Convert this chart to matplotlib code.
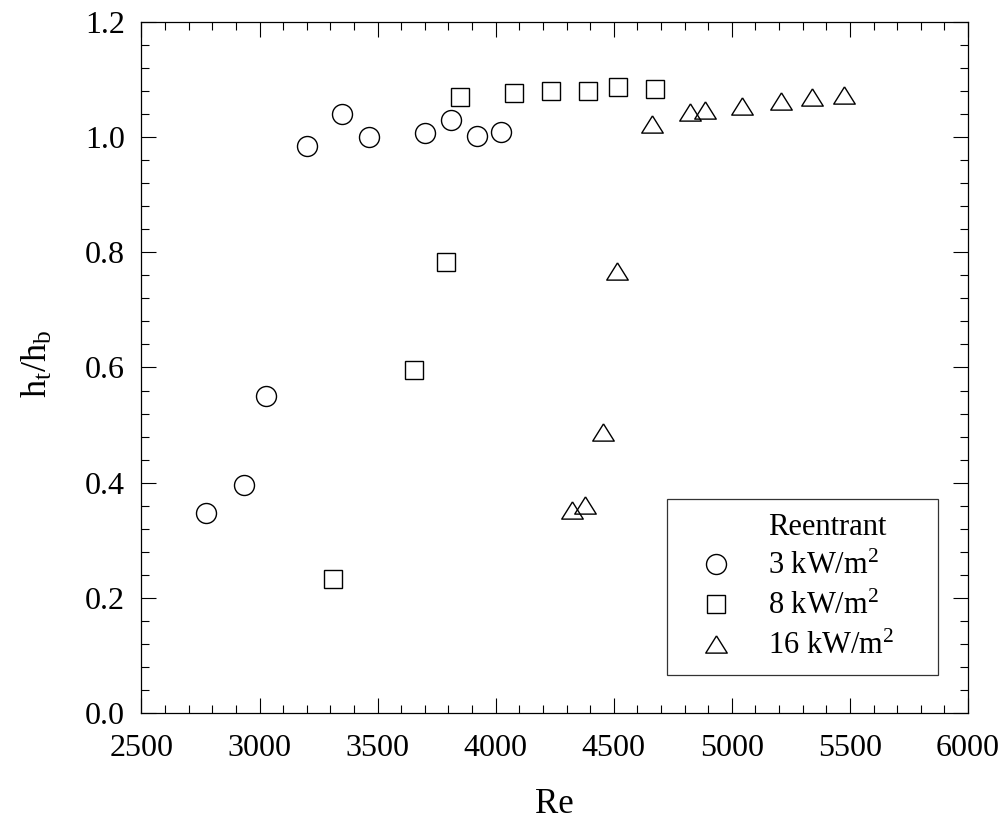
import matplotlib
matplotlib.use("Agg")
import matplotlib.pyplot as plt
from matplotlib.lines import Line2D
from matplotlib.ticker import MultipleLocator, FormatStrFormatter

plt.rcParams['font.family'] = ['Liberation Serif', 'DejaVu Serif']
plt.rcParams['mathtext.fontset'] = 'custom'
plt.rcParams['mathtext.rm'] = 'Liberation Serif'
plt.rcParams['mathtext.it'] = 'Liberation Serif:italic'

# Reentrant surface, ratio of top to bottom heat transfer coefficient vs Re
re_3 = [2773, 2934, 3026, 3200, 3348, 3462, 3700, 3811, 3920, 4021]
ht_3 = [0.347, 0.396, 0.551, 0.985, 1.040, 1.000, 1.007, 1.029, 1.002, 1.009]

re_8 = [3311, 3654, 3788, 3849, 4077, 4234, 4390, 4519, 4675]
ht_8 = [0.233, 0.596, 0.783, 1.070, 1.077, 1.080, 1.080, 1.087, 1.083]

re_16 = [4323, 4378, 4454, 4512, 4662, 4823, 4886, 5042, 5207, 5338, 5475]
ht_16 = [0.353, 0.361, 0.488, 0.768, 1.023, 1.043, 1.048, 1.055, 1.063, 1.070, 1.074]

labels = ['3 kW/m$^2$', '8 kW/m$^2$', '16 kW/m$^2$']
legend_title = 'Reentrant'

fig = plt.figure(figsize=(10.07, 8.25), dpi=100)
ax = fig.add_axes([0.1405, 0.1358, 0.8208, 0.8375])

tri = [(0, 0.8), (-1, -0.8), (1, -0.8), (0, 0.8)]
common = dict(linestyle='none', markerfacecolor='none', markeredgecolor='black',
              markeredgewidth=1.0)
h1, = ax.plot(re_3, ht_3, marker='o', markersize=14.4, label=labels[0], **common)
h2, = ax.plot(re_8, ht_8, marker='s', markersize=13, label=labels[1], **common)
h3, = ax.plot(re_16, ht_16, marker=tri, markersize=15.5, label=labels[2], **common)

ax.set_xlim(2500, 6000)
ax.set_ylim(0, 1.2)
ax.xaxis.set_major_locator(MultipleLocator(500))
ax.xaxis.set_minor_locator(MultipleLocator(100))
ax.yaxis.set_major_locator(MultipleLocator(0.2))
ax.yaxis.set_minor_locator(MultipleLocator(0.04))
ax.yaxis.set_major_formatter(FormatStrFormatter('%.1f'))

ax.tick_params(which='both', direction='in', top=True, right=True, width=0.8,
               labelsize=23, colors='black')
ax.tick_params(which='major', length=11)
ax.tick_params(which='minor', length=5.5)
ax.tick_params(axis='x', which='major', pad=15)
ax.tick_params(axis='y', which='major', pad=12)
for s in ax.spines.values():
    s.set_linewidth(0.9)

ax.set_xlabel('Re', fontsize=25)
ax.set_ylabel(r'h$_\mathrm{t}$/h$_\mathrm{b}$', fontsize=26)
ax.xaxis.set_label_coords(0.5, -0.108)
ax.yaxis.set_label_coords(-0.105, 0.505)

blank = Line2D([], [], linestyle='none')
leg = ax.legend([blank, h1, h2, h3], [legend_title] + labels,
                loc='lower left', bbox_to_anchor=(0.636, 0.055, 0.328, 0.26),
                mode='expand', fontsize=22, frameon=True, fancybox=False,
                shadow=False, borderpad=0.45, labelspacing=0.35,
                handlelength=2.3, handletextpad=0.55, borderaxespad=0.0)
leg.get_frame().set_edgecolor('black')
leg.get_frame().set_linewidth(0.9)

fig.savefig('out.png', dpi=100, facecolor='white')
